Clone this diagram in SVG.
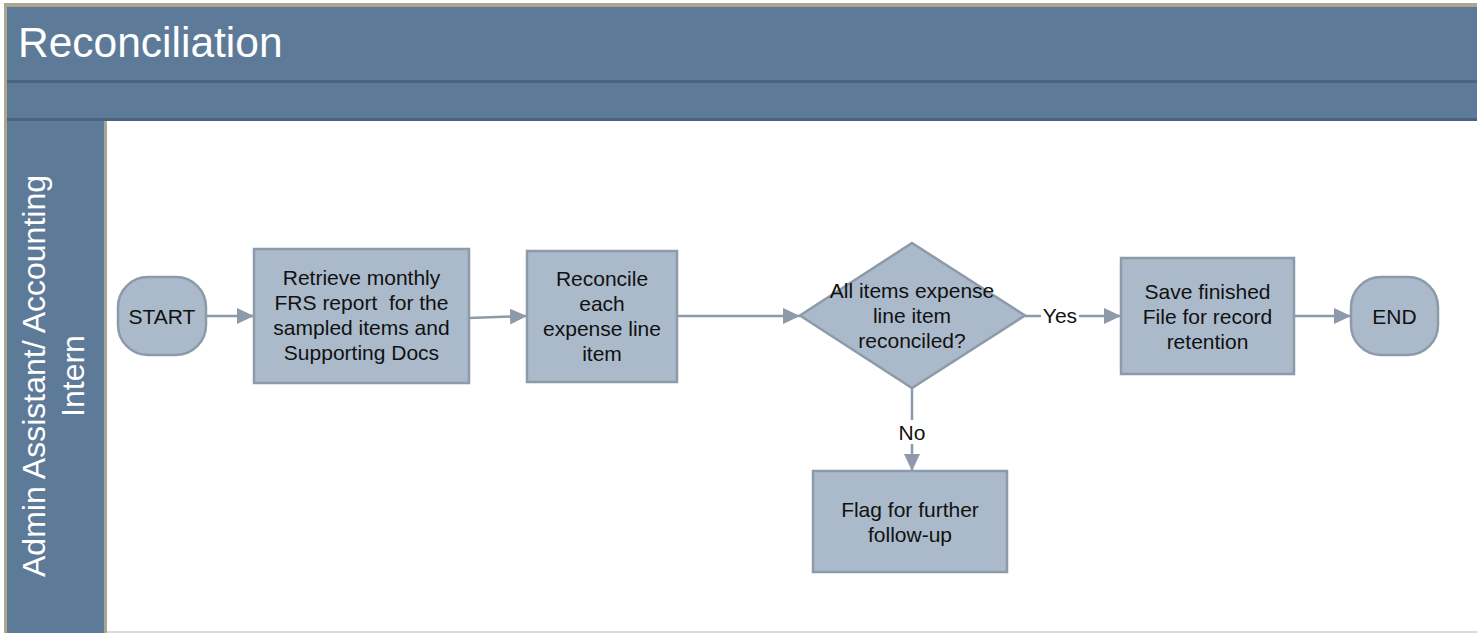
<svg xmlns="http://www.w3.org/2000/svg" width="1477" height="633" viewBox="0 0 1477 633">
<style>
.band{fill:#5E7A99}
.div{fill:#4B6380}
.tan{fill:#A9A88F}
.node{fill:#AABACB;stroke:#8C9AAA;stroke-width:2.5}
.t{font-family:"Liberation Sans",Arial,sans-serif;font-size:21px;fill:#111;text-anchor:middle}
.hdr{font-family:"Liberation Sans",Arial,sans-serif;fill:#fff}
.conn{stroke:#8C9AAA;stroke-width:2.5;fill:none}
.lbl{font-family:"Liberation Sans",Arial,sans-serif;font-size:21px;fill:#111;text-anchor:middle}
</style>
<defs>
<marker id="arr" markerUnits="userSpaceOnUse" markerWidth="18" markerHeight="16" refX="17" refY="8" orient="auto">
<path d="M0,0 L17,8 L0,16 z" fill="#8C9AAA"/>
</marker>
</defs>
<rect x="0" y="0" width="1477" height="633" fill="#fff"/>
<g id="pool">
<rect class="tan" x="4" y="3" width="1473" height="4"/>
<rect class="tan" x="4" y="3" width="3" height="630"/>
<rect class="band" x="7" y="7" width="1470" height="73"/>
<rect class="div" x="7" y="80" width="1470" height="3"/>
<rect class="band" x="7" y="83" width="1470" height="35"/>
<rect class="div" x="7" y="118" width="1470" height="3"/>
<rect class="band" x="7" y="121" width="97" height="512"/>
<rect class="tan" x="104" y="121" width="3" height="512"/>
<rect x="107" y="631" width="1370" height="2" fill="#DADAD6"/>
<text class="hdr" x="18" y="57" font-size="42.5">Reconciliation</text>
<text class="hdr" font-size="32" text-anchor="middle" transform="translate(45,376) rotate(-90)">Admin Assistant/ Accounting</text>
<text class="hdr" font-size="32" text-anchor="middle" transform="translate(84,376) rotate(-90)">Intern</text>
</g>
<g id="connectors">
<line class="conn" x1="206" y1="316" x2="254" y2="316" marker-end="url(#arr)"/>
<line class="conn" x1="469" y1="318" x2="527" y2="316" marker-end="url(#arr)"/>
<line class="conn" x1="677" y1="316" x2="800" y2="316" marker-end="url(#arr)"/>
<line class="conn" x1="1025" y1="316" x2="1121" y2="316" marker-end="url(#arr)"/>
<line class="conn" x1="1294" y1="316" x2="1351" y2="316" marker-end="url(#arr)"/>
<line class="conn" x1="912" y1="388" x2="912" y2="471" marker-end="url(#arr)"/>
<rect x="1041" y="304" width="38" height="24" fill="#fff"/>
<text class="lbl" x="1060" y="323">Yes</text>
<rect x="897" y="420" width="30" height="24" fill="#fff"/>
<text class="lbl" x="912" y="440">No</text>
</g>
<g id="start">
<rect class="node" x="118" y="277" width="88" height="78" rx="30" ry="30"/>
<text class="t" x="162" y="323.5">START</text>
</g>
<g id="retrieve">
<rect class="node" x="254" y="249" width="215" height="134"/>
<text class="t" x="361.5" y="285"> Retrieve monthly</text>
<text class="t" x="361.5" y="310">FRS report&#160; for the</text>
<text class="t" x="361.5" y="335">sampled items and</text>
<text class="t" x="361.5" y="360">Supporting Docs</text>
</g>
<g id="reconcile">
<rect class="node" x="527" y="251" width="150" height="131"/>
<text class="t" x="602" y="286">Reconcile</text>
<text class="t" x="602" y="311">each</text>
<text class="t" x="602" y="336">expense line</text>
<text class="t" x="602" y="361">item</text>
</g>
<g id="decision">
<polygon class="node" points="912,243 1025,315.5 912,388 800,315.5"/>
<text class="t" x="912" y="298">All items expense</text>
<text class="t" x="912" y="323">line item</text>
<text class="t" x="912" y="348">reconciled?</text>
</g>
<g id="save">
<rect class="node" x="1121" y="258" width="173" height="116"/>
<text class="t" x="1207.5" y="298.5">Save finished</text>
<text class="t" x="1207.5" y="323.5">File for record</text>
<text class="t" x="1207.5" y="348.5">retention</text>
</g>
<g id="end">
<rect class="node" x="1351" y="277" width="87" height="78" rx="30" ry="30"/>
<text class="t" x="1394.5" y="323.5">END</text>
</g>
<g id="flag">
<rect class="node" x="813" y="471" width="194" height="101"/>
<text class="t" x="910" y="517">Flag for further</text>
<text class="t" x="910" y="542">follow-up</text>
</g>
</svg>
